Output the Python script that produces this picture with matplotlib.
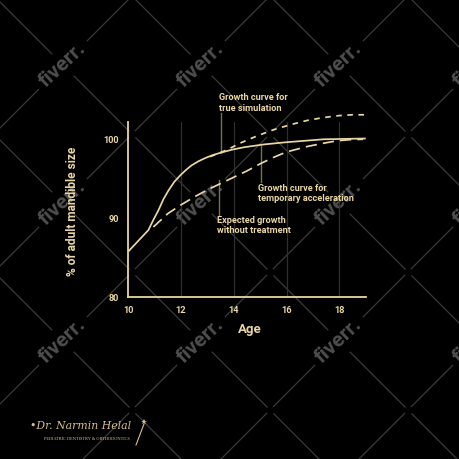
import matplotlib
matplotlib.use("Agg")
import matplotlib.pyplot as plt
import numpy as np

# ---- data ----
age_accel = [10.0, 10.76, 10.95, 11.14, 11.33, 11.52, 11.74, 11.96, 12.18, 12.4, 12.65, 12.9,
             13.2, 13.5, 13.95, 14.4, 15.15, 15.9, 16.65, 17.4, 18.2, 19.0]
size_accel = [85.8, 88.5, 89.8, 91.0, 92.4, 93.5, 94.6, 95.4, 96.1, 96.7, 97.2, 97.6,
              98.0, 98.3, 98.7, 99.0, 99.35, 99.6, 99.8, 100.0, 100.05, 100.1]

age_true = [13.1, 13.7, 14.3, 14.9, 15.5, 16.15, 16.8, 17.4, 18.0, 18.5, 19.0]
size_true = [97.8, 98.6, 99.6, 100.45, 101.2, 101.85, 102.4, 102.75, 103.0, 103.1, 103.1]

age_expected = [10.95, 11.5, 12.0, 12.5, 13.0, 13.5, 14.0, 14.5, 15.0, 15.5, 16.0, 16.8, 17.4, 17.9, 18.4, 18.9]
size_expected = [88.9, 90.6, 91.7, 92.7, 93.6, 94.4, 95.2, 96.0, 96.9, 97.7, 98.4, 99.1, 99.5, 99.8, 99.95, 100.0]

x_ticks = [10, 12, 14, 16, 18]
y_ticks = [80, 90, 100]
grid_ages = [12, 14, 16, 18]

labels = ["Growth curve for\ntrue simulation",
          "Growth curve for\ntemporary acceleration",
          "Expected growth\nwithout treatment"]
label_pos = [(13.44, 105.8), (14.92, 94.4), (13.35, 90.3)]
leaders = [(13.52, 98.3, 103.3), (15.03, 99.1, 94.6), (13.43, 94.8, 90.4)]

CREAM = "#e9d7a3"
LEADER = "#7a7056"
FONT = ["Roboto", "DejaVu Sans"]

fig = plt.figure(figsize=(4.59, 4.59), dpi=100, facecolor="black")

# ---- watermark background ----
bg = fig.add_axes([0, 0, 1, 1], zorder=0)
bg.set_xlim(0, 459)
bg.set_ylim(459, 0)
bg.axis("off")
bg.set_facecolor("black")
for k in range(-2, 8):
    c = 128 + 138 * k
    xs = np.array([-50, 510])
    bg.plot(xs, c - xs, color="#3a3a3a", lw=0.9)
    c2 = -2 + 138 * k
    bg.plot(xs, xs - c2, color="#3a3a3a", lw=0.9)
# small gaps where lines cross without a logo
for i in range(-1, 4):
    for j in range(-1, 4):
        bg.plot([132 + 138 * i], [134 + 138 * j], marker="o", color="black",
                markersize=6, markeredgewidth=0, zorder=3)
for i in range(0, 4):
    for j in range(0, 3):
        cx, cy = 63 + 138 * i, 65 + 138 * j
        bg.text(cx, cy, "fiverr.", color="#4e4e4e", fontsize=15, fontweight="bold",
                family=FONT, rotation=43, ha="center", va="center",
                rotation_mode="anchor",
                bbox=dict(facecolor="black", edgecolor="none", pad=4))

# ---- main chart ----
ax = fig.add_axes([128.3 / 459, 1 - 297.3 / 459, 237.4 / 459, 175.4 / 459], zorder=2)
ax.set_facecolor("none")
ax.set_xlim(10, 19)
ax.set_ylim(80, 102.2)

for g in grid_ages:
    ax.axvline(g, color="#2f2f2f", lw=0.9, zorder=1)

for (x, y0, y1) in leaders:
    ax.plot([x, x], [y0, y1], color=LEADER, lw=1.0, zorder=2, clip_on=False)

ax.plot(age_accel, size_accel, color=CREAM, lw=1.25, zorder=4, clip_on=False,
        solid_capstyle="butt", solid_joinstyle="round")
ax.plot(age_true, size_true, color=CREAM, lw=1.25, zorder=4, clip_on=False,
        linestyle=(0, (3.2, 3.2)))
ax.plot(age_expected, size_expected, color=CREAM, lw=1.25, zorder=4, clip_on=False,
        linestyle=(0, (6.5, 3.5)))

for txt, (x, y) in zip(labels, label_pos):
    ax.text(x, y, txt, color=CREAM, fontsize=6.6, fontweight="bold", family=FONT,
            ha="left", va="top", linespacing=1.15, clip_on=False)

for side in ["top", "right"]:
    ax.spines[side].set_visible(False)
for side in ["left", "bottom"]:
    ax.spines[side].set_color(CREAM)
    ax.spines[side].set_linewidth(1.3)

ax.set_xticks(x_ticks)
ax.set_yticks(y_ticks)
ax.tick_params(axis="both", length=0, colors=CREAM, labelsize=6.6)
ax.tick_params(axis="x", pad=6.0)
ax.tick_params(axis="y", pad=7.0)
for lab in ax.get_xticklabels() + ax.get_yticklabels():
    lab.set_fontweight("bold")
    lab.set_family(FONT)

ax.text(0.51, -0.186, "Age", transform=ax.transAxes, color=CREAM, fontsize=9.5,
        fontweight="bold", family=FONT, ha="center", va="center")
ax.text(-0.235, 0.49, "% of adult mandible size", transform=ax.transAxes, color=CREAM,
        fontsize=8.6, fontweight="bold", family=FONT, ha="center", va="center",
        rotation=90)

# ---- signature ----
GOLD = "#d6c189"
fig.text(30 / 459, 1 - 426 / 459, "\u2022Dr. Narmin Helal", color=GOLD, fontsize=7.8,
         family=["DejaVu Serif"], style="italic", ha="left", va="center")
fig.text(44 / 459, 1 - 439 / 459, "PEDIATRIC DENTISTRY & ORTHODONTICS", color=GOLD,
         fontsize=3.2, family=["Liberation Serif"], ha="left", va="center")
bg.plot([136, 144], [445, 424], color=GOLD, lw=0.8, zorder=4)
bg.plot([144], [422], marker="*", color=GOLD, markersize=4, markeredgewidth=0, zorder=4)

fig.savefig("out.png", dpi=100, facecolor="black")
